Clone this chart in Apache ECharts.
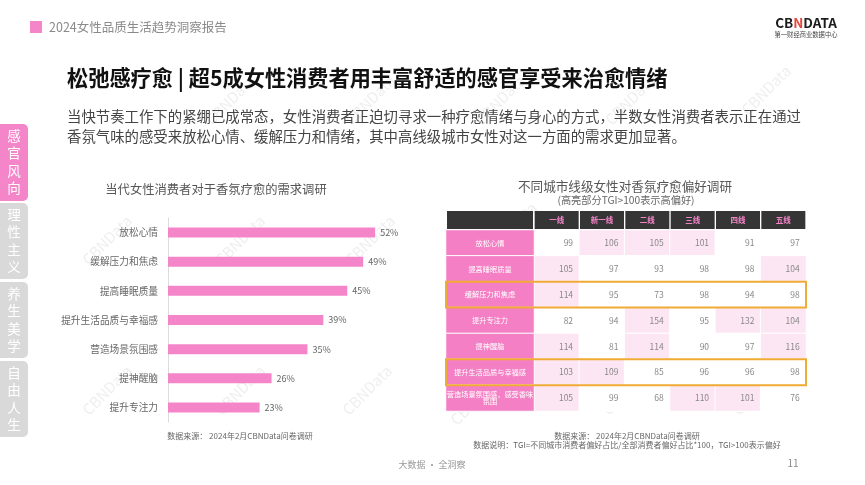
<!DOCTYPE html>
<html lang="zh">
<head>
    <meta charset="UTF-8">
    <title>2024女性品质生活趋势洞察报告</title>
    <script src="https://cdn.jsdelivr.net/npm/echarts@6/dist/echarts.min.js"></script>
    <style>
        html, body { margin: 0; padding: 0; background: #fff; }
        #main { width: 865px; height: 485px; }
    </style>
</head>
<body>
<div id="main"></div>
<script type="application/javascript">
    var FONT = '"Noto Sans CJK SC", sans-serif';

    // 左图：需求调研
    var needNames = ['放松心情', '缓解压力和焦虑', '提高睡眠质量', '提升生活品质与幸福感', '营造场景氛围感', '提神醒脑', '提升专注力'];
    var needValues = [52, 49, 45, 39, 35, 26, 23];

    // 右图：TGI 表
    var cityLevels = ['一线', '新一线', '二线', '三线', '四线', '五线'];
    var tgiRows = ['放松心情', '提高睡眠质量', '缓解压力和焦虑', '提升专注力', '提神醒脑', '提升生活品质与幸福感', '营造场景氛围感，感受香味氛围'];
    var tgiValues = [
        [99, 106, 105, 101, 91, 97],
        [105, 97, 93, 98, 98, 104],
        [114, 95, 73, 98, 94, 98],
        [82, 94, 154, 95, 132, 104],
        [114, 81, 114, 90, 97, 116],
        [103, 109, 85, 96, 96, 98],
        [105, 99, 68, 110, 101, 76]
    ];
    var highlightRows = [2, 5];

    var sideTabs = ['感官风向', '理性主义', '养生美学', '自由人生'];
    var watermarks = [
        [230, 100], [370, 100], [500, 100], [630, 100], [766, 90],
        [107, 240], [240, 240], [370, 240], [107, 390], [240, 390], [367, 390],
        [512, 227], [620, 243], [747, 243], [475, 400], [627, 390], [757, 390]
    ];

    var PINK = '#f585c9', LIGHT = '#fde6f4';
    var LABEL_W = 88;

    // 热力图数据
    var cellData = [];
    tgiValues.forEach(function (row, r) {
        row.forEach(function (v, c) { cellData.push([c, r, v]); });
    });
    var labelData = tgiRows.map(function (n, r) { return [0, r, 1]; });

    // 水印和侧边栏
    var graphics = [];
    watermarks.forEach(function (p) {
        graphics.push({
            type: 'text', x: p[0], y: p[1], rotation: Math.PI / 4, z: 0, silent: true,
            style: { text: 'CBNData', fill: '#efefef', font: '15px ' + FONT, textAlign: 'center', textVerticalAlign: 'middle' }
        });
    });
    sideTabs.forEach(function (t, i) {
        var top = 124 + i * 79;
        graphics.push({
            type: 'rect', shape: { x: 0, y: top, width: 28, height: i === 0 ? 77 : 76, r: [0, 5, 5, 0] },
            style: { fill: i === 0 ? PINK : '#d9d9d9' }
        });
        graphics.push({
            type: 'text', x: 14, y: top + 38,
            style: {
                text: t.split('').join('\n'), fill: '#fff', font: '13.5px ' + FONT, lineHeight: 17.5,
                textAlign: 'center', textVerticalAlign: 'middle'
            }
        });
    });
    // 页眉页脚
    graphics.push(
        { type: 'rect', shape: { x: 30, y: 21, width: 12, height: 12 }, style: { fill: PINK } },
        { type: 'text', x: 49, y: 27, style: { text: '2024女性品质生活趋势洞察报告', fill: '#8a8a8a', font: '12.5px ' + FONT, textVerticalAlign: 'middle' } },
        { type: 'text', x: 806, y: 23, style: {
            text: '{a|CB}{b|N}{a|DATA}', textAlign: 'center', textVerticalAlign: 'middle',
            rich: { a: { fill: '#1c1c1c', font: 'bold 13.5px ' + FONT }, b: { fill: '#e8453c', font: 'bold 13.5px ' + FONT } }
        } },
        { type: 'text', x: 806, y: 35, style: { text: '第一财经商业数据中心', fill: '#444', font: '6.3px ' + FONT, textAlign: 'center', textVerticalAlign: 'middle' } },
        { type: 'text', x: 67, y: 78, style: { text: '松弛感疗愈 | 超5成女性消费者用丰富舒适的感官享受来治愈情绪', fill: '#111', font: 'bold 21.2px ' + FONT, textVerticalAlign: 'middle' } },
        { type: 'text', x: 67, y: 117, style: { text: '当快节奏工作下的紧绷已成常态，女性消费者正迫切寻求一种疗愈情绪与身心的方式，半数女性消费者表示正在通过', fill: '#444', font: '14.4px ' + FONT, textVerticalAlign: 'middle' } },
        { type: 'text', x: 67, y: 137, style: { text: '香氛气味的感受来放松心情、缓解压力和情绪，其中高线级城市女性对这一方面的需求更加显著。', fill: '#444', font: '14.4px ' + FONT, textVerticalAlign: 'middle' } },
        { type: 'text', x: 240, y: 436, style: { text: '数据来源： 2024年2月CBNData问卷调研', fill: '#666', font: '8px ' + FONT, textAlign: 'center', textVerticalAlign: 'middle' } },
        { type: 'text', x: 627, y: 436, style: { text: '数据来源： 2024年2月CBNData问卷调研', fill: '#666', font: '8px ' + FONT, textAlign: 'center', textVerticalAlign: 'middle' } },
        { type: 'text', x: 627, y: 445, style: { text: '数据说明：TGI=不同城市消费者偏好占比/全部消费者偏好占比*100，TGI>100表示偏好', fill: '#666', font: '8px ' + FONT, textAlign: 'center', textVerticalAlign: 'middle' } },
        { type: 'text', x: 432, y: 465, style: { text: '大数据 · 全洞察', fill: '#999', font: '9px ' + FONT, textAlign: 'center', textVerticalAlign: 'middle' } },
        { type: 'text', x: 793, y: 463, style: { text: '11', fill: '#888', font: '10px ' + FONT, textAlign: 'center', textVerticalAlign: 'middle' } }
    );

    var myChart = echarts.init(document.getElementById('main'), null, { renderer: 'canvas' });

    var option = {
        animation: false,
        backgroundColor: '#fff',
        textStyle: { fontFamily: FONT },
        title: [
            { text: '当代女性消费者对于香氛疗愈的需求调研', left: 211, top: 178, textAlign: 'center', textStyle: { fontSize: 12.3, fontWeight: 'normal', color: '#555', fontFamily: FONT } },
            { text: '不同城市线级女性对香氛疗愈偏好调研', left: 620, top: 175, textAlign: 'center', textStyle: { fontSize: 12.6, fontWeight: 'normal', color: '#555', fontFamily: FONT } },
            { text: '(高亮部分TGI>100表示高偏好)', left: 621, top: 190, textAlign: 'center', textStyle: { fontSize: 10.2, fontWeight: 'normal', color: '#666', fontFamily: FONT } }
        ],
        grid: [
            { left: 168, top: 218, width: 239, height: 204 },
            { left: 534, top: 230, width: 272, height: 181 },
            { left: 446, top: 230, width: LABEL_W, height: 181 }
        ],
        xAxis: [
            { gridIndex: 0, type: 'value', min: 0, max: 60, show: false },
            {
                gridIndex: 1, type: 'category', position: 'top', data: cityLevels,
                axisLine: { show: false }, axisTick: { show: false }, splitLine: { show: false },
                axisLabel: {
                    margin: 1, interval: 0, color: '#f585c9', fontSize: 7.5, fontWeight: 'bold', fontFamily: FONT,
                    backgroundColor: '#353535', width: 44, height: 18, lineHeight: 18, align: 'center'
                }
            },
            {
                gridIndex: 2, type: 'category', position: 'top', data: ['\u3000'],
                axisLine: { show: false }, axisTick: { show: false },
                axisLabel: { margin: 1, fontSize: 7.5, backgroundColor: '#353535', width: 86, height: 18, lineHeight: 18, align: 'center' }
            }
        ],
        yAxis: [
            {
                gridIndex: 0, type: 'category', inverse: true, data: needNames,
                axisLine: { lineStyle: { color: '#dcdcdc' } }, axisTick: { show: false },
                axisLabel: { margin: 10, fontSize: 9.7, color: '#666', fontFamily: FONT }
            },
            { gridIndex: 1, type: 'category', inverse: true, data: tgiRows, show: false },
            { gridIndex: 2, type: 'category', inverse: true, data: tgiRows, show: false }
        ],
        visualMap: {
            show: false, type: 'piecewise', seriesIndex: 1, dimension: 2,
            pieces: [{ gt: 100, color: LIGHT }, { lte: 100, color: '#fff' }]
        },
        series: [
            {
                type: 'bar', xAxisIndex: 0, yAxisIndex: 0, data: needValues, barWidth: 10,
                itemStyle: { color: PINK },
                label: { show: true, position: 'right', distance: 5, formatter: '{c}%', fontSize: 9, color: '#666' }
            },
            {
                type: 'heatmap', xAxisIndex: 1, yAxisIndex: 1, data: cellData,
                itemStyle: { borderColor: '#fff', borderWidth: 1 },
                label: {
                    show: true, position: 'insideRight', distance: 7, fontSize: 8.5, color: '#888',
                    formatter: function (p) { return p.value[2]; }
                },
                emphasis: { disabled: true }
            },
            {
                type: 'heatmap', xAxisIndex: 2, yAxisIndex: 2, data: labelData,
                itemStyle: { color: '#f47fc4', borderColor: '#fff', borderWidth: 1 },
                label: {
                    show: true, fontSize: 7.2, color: '#fff', width: 87, overflow: 'break', align: 'center',
                    formatter: function (p) { return tgiRows[p.value[1]]; }
                },
                emphasis: { disabled: true }
            },
            {
                // 橙色高亮框
                type: 'custom', xAxisIndex: 1, yAxisIndex: 1, z: 5, silent: true,
                data: highlightRows.map(function (r) { return [0, r]; }),
                renderItem: function (params, api) {
                    var grid = params.coordSys;
                    var cy = api.coord([0, api.value(1)])[1];
                    var h = api.size([0, 1])[1];
                    return {
                        type: 'rect',
                        shape: { x: grid.x - LABEL_W, y: cy - h / 2, width: grid.width + LABEL_W, height: h },
                        style: { fill: 'none', stroke: '#f0ab35', lineWidth: 2 }
                    };
                }
            }
        ],
        graphic: graphics
    };

    myChart.setOption(option);
</script>
</body>
</html>
